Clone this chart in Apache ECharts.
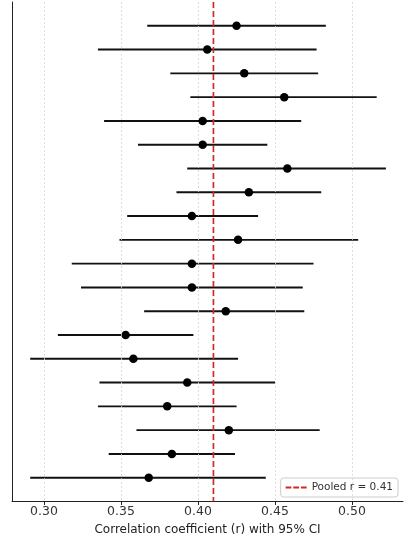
<!DOCTYPE html>
<html>
<head>
<meta charset="utf-8">
<script src="https://cdn.jsdelivr.net/npm/echarts@6/dist/echarts.min.js"></script>
<style>html,body{margin:0;padding:0;background:#fff}#c{width:417px;height:536px}</style>
</head>
<body>
<div id="c"></div>
<script>
var estimates = [0.425, 0.406, 0.430, 0.456, 0.403, 0.403, 0.458, 0.433, 0.396, 0.426,
                 0.396, 0.396, 0.418, 0.353, 0.358, 0.393, 0.380, 0.420, 0.383, 0.368];
var lowers    = [0.367, 0.335, 0.382, 0.395, 0.339, 0.361, 0.393, 0.386, 0.354, 0.349,
                 0.318, 0.324, 0.365, 0.309, 0.291, 0.336, 0.335, 0.360, 0.342, 0.291];
var uppers    = [0.483, 0.477, 0.478, 0.516, 0.467, 0.445, 0.522, 0.480, 0.439, 0.504,
                 0.475, 0.468, 0.469, 0.397, 0.426, 0.450, 0.425, 0.479, 0.424, 0.444];
var pooled = 0.41;
var tickValues = [0.30, 0.35, 0.40, 0.45, 0.50];

var chart = echarts.init(document.getElementById('c'));
var ciData = estimates.map(function (e, i) { return [lowers[i], uppers[i], i]; });
var ptData = estimates.map(function (e, i) { return [e, i]; });
var pooledName = 'Pooled r = ' + pooled.toFixed(2);

chart.setOption({
  animation: false,
  grid: { left: 12, right: 14, top: 2, bottom: 34.5, containLabel: false, outerBoundsMode: 'none' },
  xAxis: {
    type: 'value', min: 0.2792, max: 0.5331,
    axisLine: { show: true, onZero: false, lineStyle: { color: '#222', width: 1 } },
    axisTick: { show: true, customValues: tickValues, length: 3.5, lineStyle: { color: '#222' } },
    axisLabel: { customValues: tickValues, color: '#333', fontSize: 12.5, margin: 4,
                 fontFamily: 'DejaVu Sans',
                 formatter: function (v) { return v.toFixed(2); } },
    splitLine: { show: false },
    name: 'Correlation coefficient (r) with 95% CI',
    nameLocation: 'middle', nameGap: 18,
    nameTextStyle: { color: '#222', fontSize: 12, fontFamily: 'DejaVu Sans' }
  },
  yAxis: {
    type: 'value', inverse: true, min: -1, max: 20,
    axisLine: { show: true, onZero: false, lineStyle: { color: '#222', width: 1 } },
    axisTick: { show: false }, axisLabel: { show: false }, splitLine: { show: false }
  },
  legend: {
    right: 19, bottom: 39, orient: 'horizontal',
    data: [{ name: pooledName, icon: 'path://M0,0H6V2H0Z M8,0H14V2H8Z M16,0H22V2H16Z' }],
    itemWidth: 21, itemHeight: 2, itemGap: 6,
    textStyle: { color: '#333', fontSize: 10.5, fontFamily: 'DejaVu Sans' },
    borderColor: '#ccc', borderWidth: 1, borderRadius: 3,
    padding: [4, 5, 4, 5], backgroundColor: '#fff'
  },
  series: [
    {
      type: 'line', name: 'grid', silent: true, data: [],
      markLine: {
        silent: true, symbol: 'none', label: { show: false },
        lineStyle: { color: '#d6d6d6', type: [2, 2], width: 0.8 },
        data: tickValues.map(function (v) { return { xAxis: v }; })
      }
    },
    {
      type: 'custom', name: 'ci', silent: true,
      renderItem: function (params, api) {
        var p1 = api.coord([api.value(0), api.value(2)]);
        var p2 = api.coord([api.value(1), api.value(2)]);
        return { type: 'line', shape: { x1: p1[0], y1: p1[1], x2: p2[0], y2: p2[1] },
                 style: { stroke: '#111', lineWidth: 1.9 } };
      },
      encode: { x: [0, 1], y: 2 },
      data: ciData, z: 3
    },
    {
      type: 'scatter', name: 'est', data: ptData, symbolSize: 8.5,
      itemStyle: { color: '#000', opacity: 1 }, z: 4
    },
    {
      type: 'line', name: pooledName,
      data: [[pooled, -1], [pooled, 20]], symbol: 'none', z: 5,
      lineStyle: { color: '#d62728', type: [6, 3], width: 1.7 },
      itemStyle: { color: '#d62728' }
    }
  ]
});
</script>
</body>
</html>
